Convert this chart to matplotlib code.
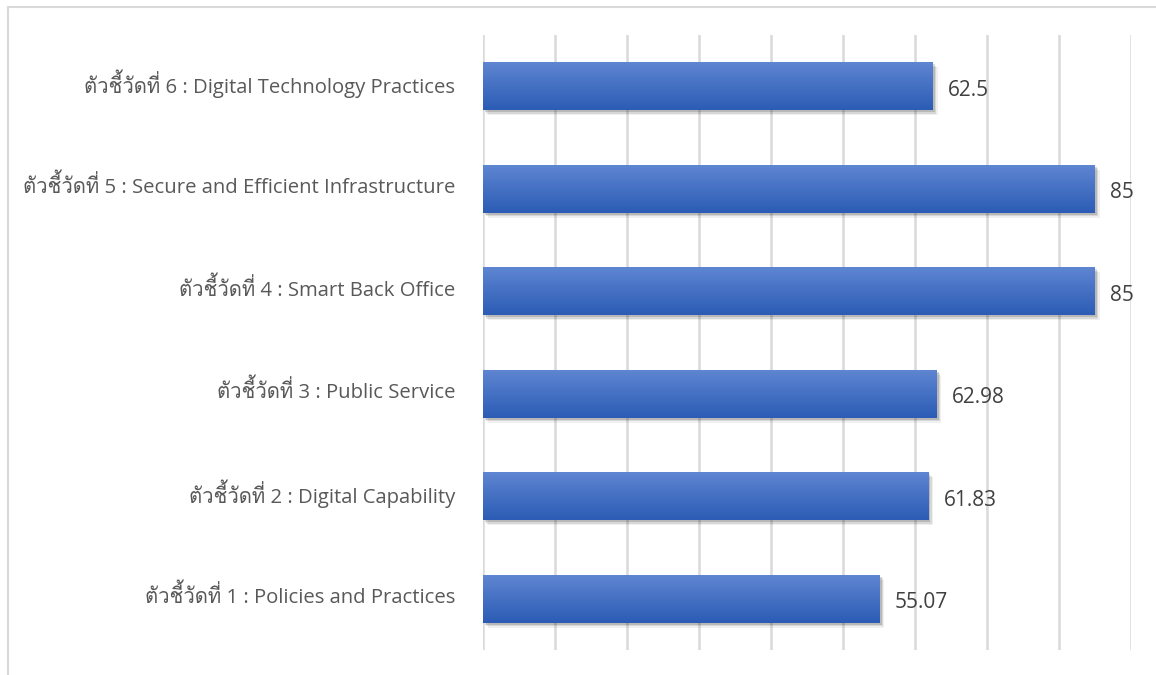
import numpy as np
import matplotlib
matplotlib.use("Agg")
import matplotlib.pyplot as plt
from matplotlib import font_manager as fm
from matplotlib import patheffects as pe
from matplotlib.patches import Rectangle
from matplotlib.transforms import ScaledTranslation

categories = [
    "ตัวชี้วัดที่ 1 : Policies and Practices",
    "ตัวชี้วัดที่ 2 : Digital Capability",
    "ตัวชี้วัดที่ 3 : Public Service",
    "ตัวชี้วัดที่ 4 : Smart Back Office",
    "ตัวชี้วัดที่ 5 : Secure and Efficient Infrastructure",
    "ตัวชี้วัดที่ 6 : Digital Technology Practices",
]
values = [55.07, 61.83, 62.98, 85, 85, 62.5]
value_labels = ["55.07", "61.83", "62.98", "85", "85", "62.5"]

# find any installed family with Thai glyphs
thai_fams = []
try:
    from fontTools.ttLib import TTFont
    for f in fm.fontManager.ttflist:
        try:
            t = TTFont(f.fname, fontNumber=0, lazy=True)
            cmap = t.getBestCmap()
            if cmap and 0x0E15 in cmap and f.name not in thai_fams:
                thai_fams.append(f.name)
        except Exception:
            pass
except Exception:
    pass

fams = ["Open Sans"] + thai_fams + ["DejaVu Sans"]
plt.rcParams["font.family"] = fams

fig = plt.figure(figsize=(11.56, 6.75), dpi=100)
ax = fig.add_axes([483/1156, 1-650/675, (1131-483)/1156, (650-35)/675])

y = np.arange(len(categories))
h = 0.47
shadow = [pe.SimplePatchShadow(offset=(o, -o), shadow_rgbFace="k", alpha=a)
          for o, a in [(3.5, 0.06), (2.5, 0.10), (1.5, 0.14)]]
bars = ax.barh(y, values, height=h, color="#4472C4", zorder=2,
               path_effects=shadow + [pe.Normal()])

grad = np.linspace(0, 1, 64)
top = np.array(matplotlib.colors.to_rgb("#5F86D2"))
bot = np.array(matplotlib.colors.to_rgb("#2C5CB5"))
img = (bot[None, :] * (1 - grad[:, None]) + top[None, :] * grad[:, None])[:, None, :]
for b in bars:
    x0, y0 = b.get_x(), b.get_y()
    w, hh = b.get_width(), b.get_height()
    im = ax.imshow(img, extent=[x0, x0 + w, y0, y0 + hh], origin="lower",
                   aspect="auto", zorder=3, interpolation="bilinear")
    im.set_clip_path(b)

for yi, v, lab in zip(y, values, value_labels):
    ax.annotate(lab, (v, yi), xytext=(11, -3), textcoords="offset points",
                va="center", ha="left", fontsize=15, color="#404040")

ax.set_xlim(0, 90)
ax.set_ylim(-0.5, len(categories) - 0.5)
ax.set_xticks(np.arange(0, 91, 10))
ax.set_xticklabels([])
ax.grid(axis="x", color="#D9D9D9", linewidth=1.8, zorder=0)
ax.set_axisbelow(True)
ax.set_yticks(y)
ax.set_yticklabels(categories, fontsize=14.6, color="#595959")
ax.tick_params(axis="both", length=0)
ax.tick_params(axis="y", pad=20)
off = ScaledTranslation(0, 5/100, fig.dpi_scale_trans)
for t in ax.get_yticklabels():
    t.set_transform(t.get_transform() + off)
for s in ax.spines.values():
    s.set_visible(False)

fig.patches.append(Rectangle((8/1156, -0.01), 1.1, 1 - 7/675 + 0.01, transform=fig.transFigure,
                             fill=False, edgecolor="#D9D9D9", linewidth=1.5, zorder=0))

fig.savefig("out.png", dpi=100)
